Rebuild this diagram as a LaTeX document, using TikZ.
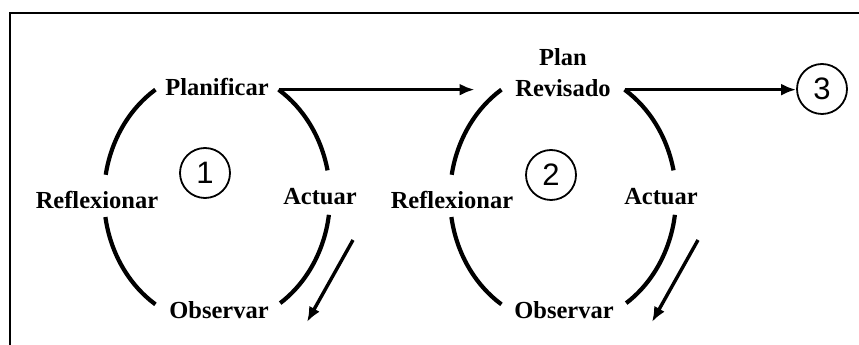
\documentclass[tikz,border=0pt]{standalone}
\usepackage{fontspec}
\setmainfont{Liberation Serif}
\newfontfamily\numfont{Liberation Sans}
\usetikzlibrary{arrows.meta,positioning,calc}

\begin{document}
\begin{tikzpicture}[x=1pt,y=1pt,
  etapa/.style={font=\bfseries\fontsize{24.5}{31}\selectfont,inner sep=1pt,align=center},
  num/.style={circle,draw,line width=1.8pt,minimum size=50pt,inner sep=0pt,font=\numfont\fontsize{31}{31}\selectfont},
  ciclo/.style={line width=4.2pt},
  flecha/.style={line width=3.4pt,-{Latex[length=15pt,width=12pt]}}]
\useasboundingbox (0,0) rectangle (859,345);

% Frame (left and top only)
\draw[line width=2.5pt] (10,0) -- (10,332) -- (859,332);

% Centres of the two cycles
\coordinate (c1) at (217,148);
\coordinate (c2) at (563,148);

% Cycle arcs
\foreach \c in {c1,c2} {
  \draw[ciclo] ([shift={(123:113 and 128)}]\c) arc[start angle=123,end angle=170,x radius=113,y radius=128];
  \draw[ciclo] ([shift={(189:113 and 128)}]\c) arc[start angle=189,end angle=237,x radius=113,y radius=128];
  \draw[ciclo] ([shift={(57:113 and 128)}]\c) arc[start angle=57,end angle=12,x radius=113,y radius=128];
  \draw[ciclo] ([shift={(-8:113 and 128)}]\c) arc[start angle=-8,end angle=-56,x radius=113,y radius=128];
}

% Cycle 1
\node[etapa] (plan1) at (217,258) {Planificar};
\node[etapa] (act1) at (320,148) {Actuar};
\node[etapa] (obs1) at (219,35) {Observar};
\node[etapa] (ref1) at (97,145) {Reflexionar};
\node[num] (n1) at (205,172) {1};

% Cycle 2
\node[etapa] (plan2) at (563,272) {Plan\\Revisado};
\node[etapa] (act2) at (661,148) {Actuar};
\node[etapa] (obs2) at (564,35) {Observar};
\node[etapa] (ref2) at (452,145) {Reflexionar};
\node[num] (n2) at (551,170) {2};

% Next cycle
\node[num] (n3) at (822,256) {3};

% Links between cycles
\coordinate (j1) at ([shift={(57:113 and 128)}]c1);
\coordinate (j2) at ([shift={(57:113 and 128)}]c2);
\coordinate (e1) at ([xshift=196]j1);
\draw[flecha] (j1) -- (e1);
\draw[flecha] (j2) -- (j2 -| n3.west);

% Action arrows
\coordinate (d1s) at (353,105);
\coordinate (d1e) at (307,23);
\coordinate (d2s) at (698,105);
\coordinate (d2e) at (652,23);
\draw[flecha] (d1s) -- (d1e);
\draw[flecha] (d2s) -- (d2e);
\end{tikzpicture}
\end{document}
